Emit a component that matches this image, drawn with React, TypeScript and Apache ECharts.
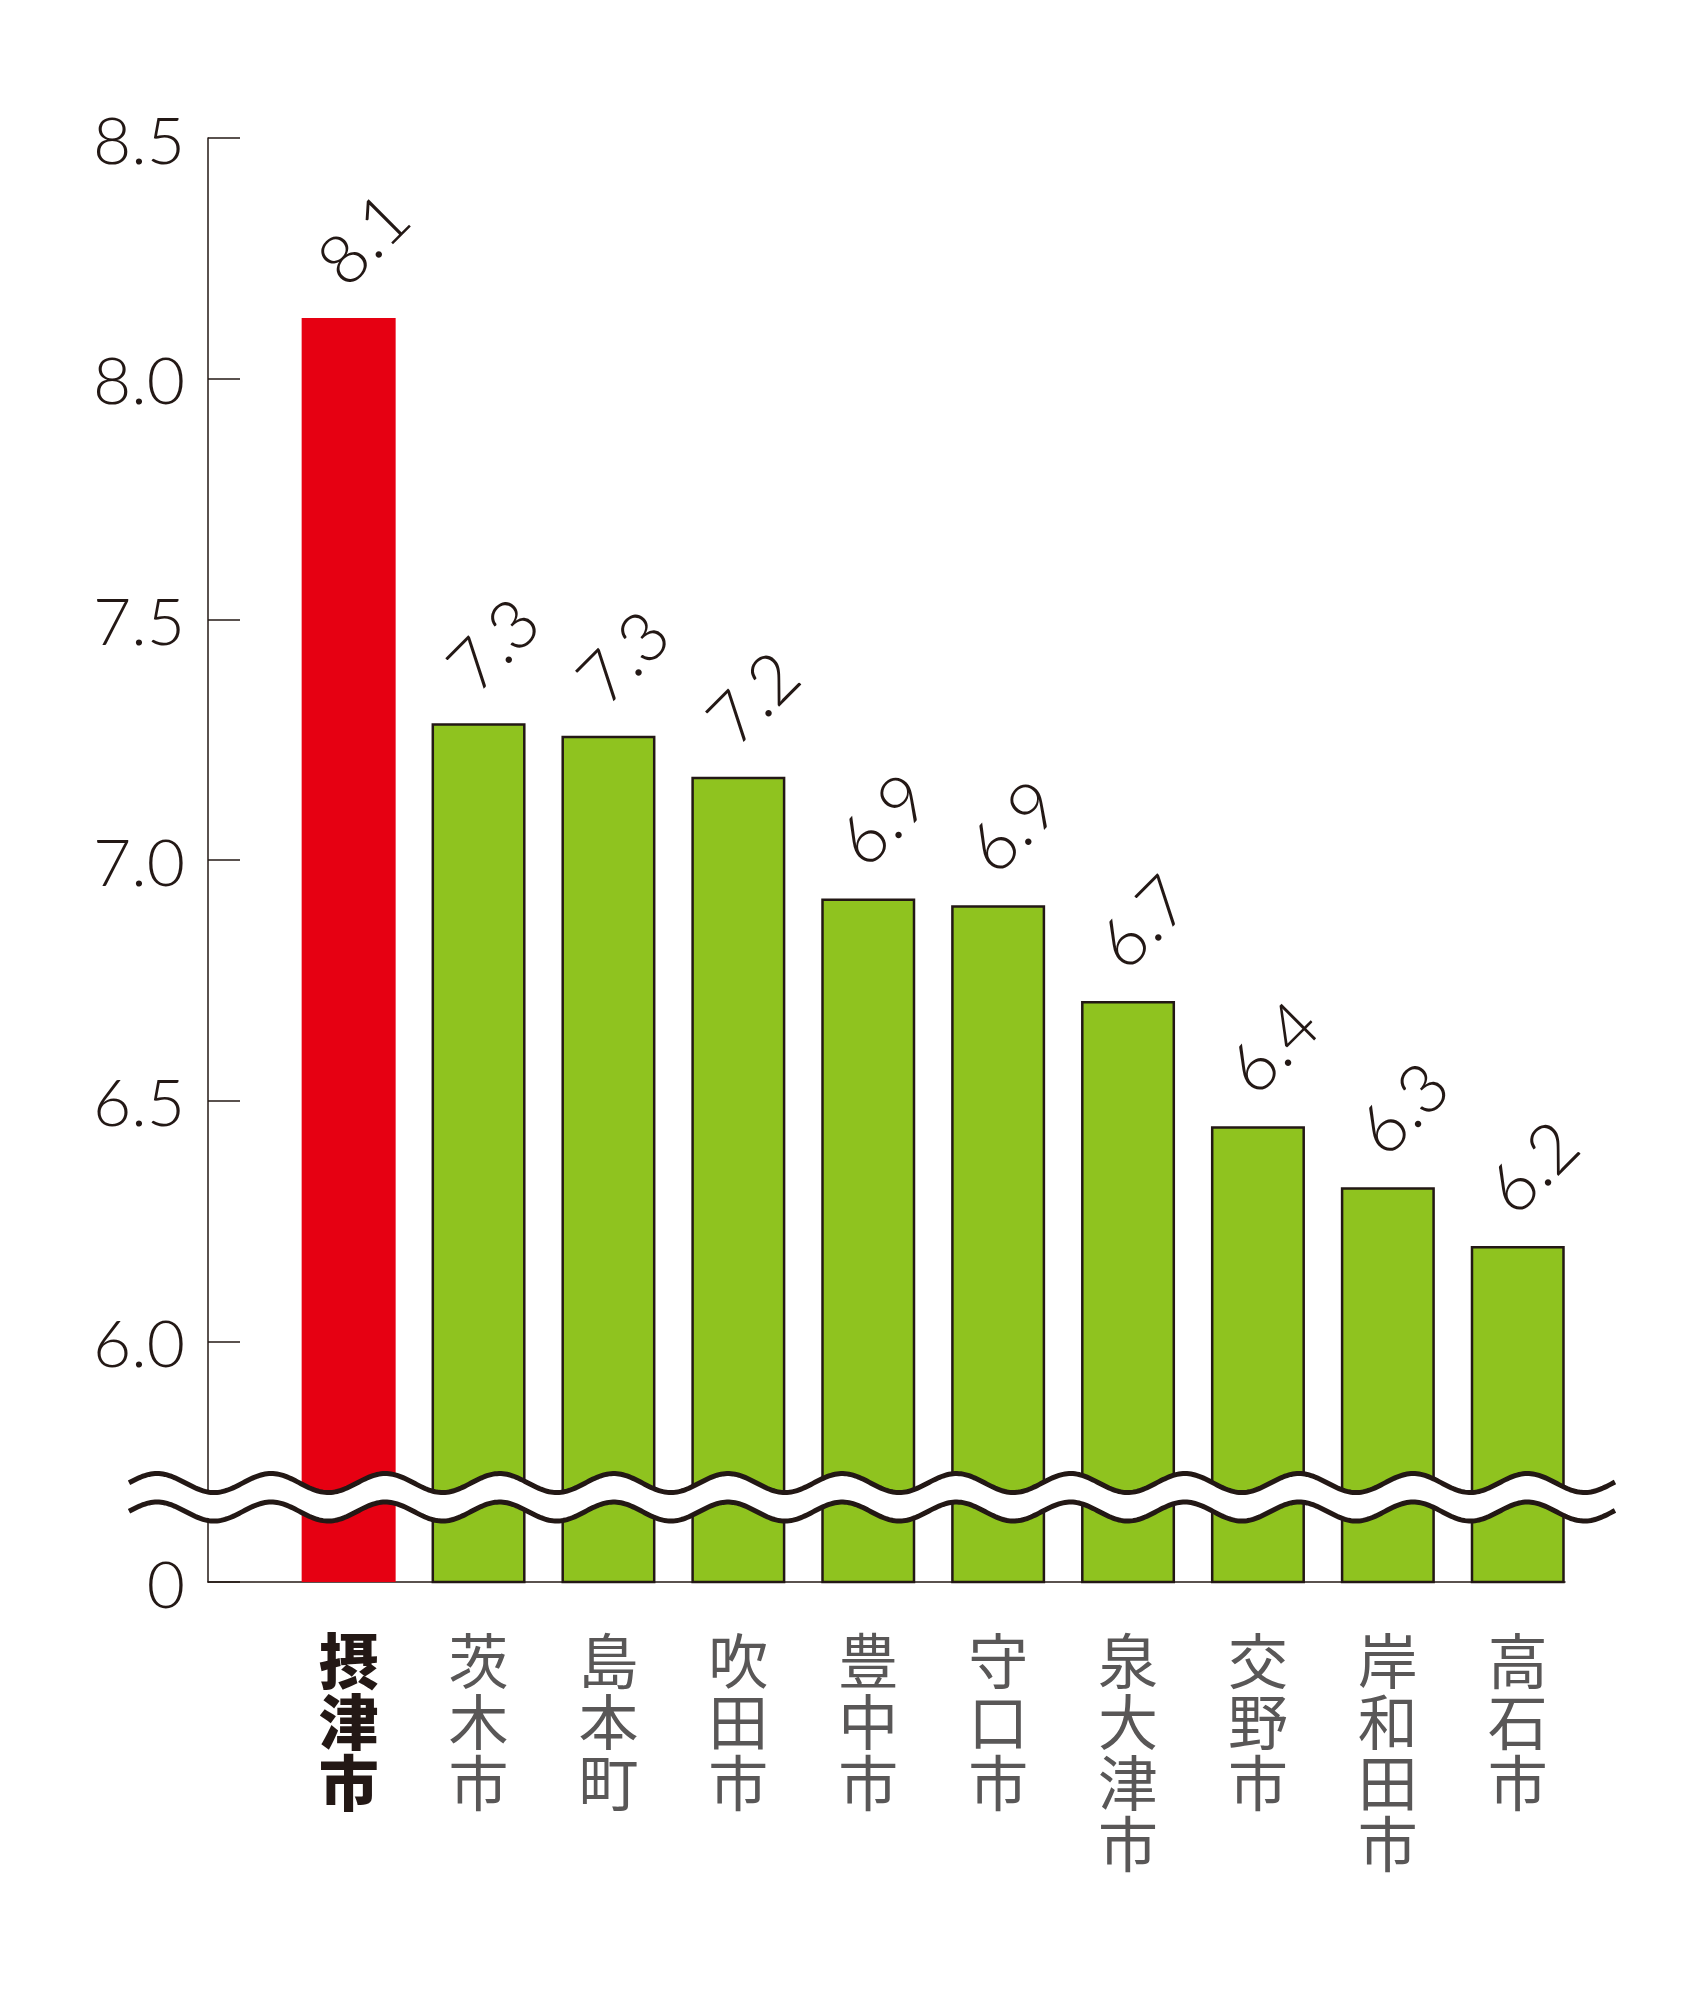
import React, { useEffect, useRef } from "react";
import * as echarts from "echarts";

const categories = ["摂津市", "茨木市", "島本町", "吹田市", "豊中市", "守口市", "泉大津市", "交野市", "岸和田市", "高石市"];
const values = [8.126, 7.284, 7.258, 7.173, 6.92, 6.906, 6.707, 6.447, 6.32, 6.198];
const valueLabels = ["8.1", "7.3", "7.3", "7.2", "6.9", "6.9", "6.7", "6.4", "6.3", "6.2"];
const yTickValues = [5.5, 6.0, 6.5, 7.0, 7.5, 8.0, 8.5];
const yTickLabels = ["0", "6.0", "6.5", "7.0", "7.5", "8.0", "8.5"];
const highlightIndex = 0;
const breakValue = 5.676;

const INK = "#231815";
const GRAY = "#595757";
const RED = "#e60012";
const GREEN = "#8fc31f";
const NUM_FONT = "Lato, 'Open Sans', sans-serif";
const CJK_FONT = "'Noto Sans CJK JP', 'Noto Sans', sans-serif";

export default function App() {
  const ref = useRef<HTMLDivElement>(null);

  useEffect(() => {
    if (!ref.current) return;
    const chart = echarts.init(ref.current, null, { renderer: "svg" });

    const option: any = {
      animation: false,
      backgroundColor: "#ffffff",
      grid: [
        { left: 208, top: 138, width: 1357, height: 1444 },
        { left: 283.7, top: 138, width: 1299, height: 1444 },
      ],
      xAxis: [
        {
          type: "value",
          gridIndex: 0,
          min: 0,
          max: 1,
          axisLine: { show: true, lineStyle: { color: INK, width: 1.5 } },
          axisTick: { show: false },
          axisLabel: { show: false },
          splitLine: { show: false },
        },
        {
          type: "category",
          gridIndex: 1,
          data: categories.map((c, i) => ({
            value: c,
            textStyle:
              i === highlightIndex
                ? { color: INK, fontWeight: 900 }
                : { color: GRAY, fontWeight: 400 },
          })),
          axisLine: { show: false },
          axisTick: { show: false },
          splitLine: { show: false },
          axisLabel: {
            interval: 0,
            margin: 45,
            fontSize: 60,
            lineHeight: 61,
            fontFamily: CJK_FONT,
            verticalAlign: "top",
            formatter: (v: string) => v.split("").join("\n"),
          },
        },
      ],
      yAxis: [
        {
          type: "value",
          gridIndex: 0,
          min: 5.5,
          max: 8.5,
          interval: 0.5,
          axisLine: { show: true, lineStyle: { color: INK, width: 1.5 } },
          axisTick: { show: true, inside: true, length: 32, lineStyle: { color: INK, width: 1.5 } },
          splitLine: { show: false },
          axisLabel: {
            margin: 23,
            fontSize: 66,
            fontFamily: NUM_FONT,
            fontWeight: 300,
            color: INK,
            formatter: (v: number) => {
              const idx = yTickValues.findIndex((t) => Math.abs(t - v) < 1e-6);
              return idx >= 0 ? yTickLabels[idx] : "";
            },
          },
        },
        {
          type: "value",
          gridIndex: 1,
          min: 5.5,
          max: 8.5,
          interval: 0.5,
          show: false,
        },
      ],
      series: [
        {
          type: "bar",
          xAxisIndex: 1,
          yAxisIndex: 1,
          barWidth: 94,
          data: values.map((v, i) => ({
            value: v,
            itemStyle:
              i === highlightIndex
                ? { color: RED, borderWidth: 0 }
                : { color: GREEN, borderColor: INK, borderWidth: 2.5 },
          })),
          label: {
            show: true,
            position: ["54%", -22],
            rotate: 45,
            align: "left",
            verticalAlign: "bottom",
            fontSize: 69,
            fontFamily: NUM_FONT,
            fontWeight: 300,
            color: INK,
            formatter: (p: any) => valueLabels[p.dataIndex],
          },
        },
      ],
    };

    chart.setOption(option);

    // axis-break wave symbol, positioned from the y axis scale
    const yc = chart.convertToPixel({ yAxisIndex: 0 }, breakValue) as number;
    const axisX = chart.convertToPixel({ xAxisIndex: 0 }, 0) as number;
    const startX = axisX - 79;
    const endX = axisX + 1407;
    const crestX = axisX - 51;
    const period = 114.2;
    const amp = 9.5;
    const gap = 28.5;
    const wave = (offset: number) => {
      const pts: number[][] = [];
      for (let x = startX; x <= endX + 0.01; x += 2) {
        pts.push([x, yc + offset - amp * Math.cos((2 * Math.PI * (x - crestX)) / period)]);
      }
      return pts;
    };
    const upper = wave(-gap / 2);
    const lower = wave(gap / 2);
    chart.setOption({
      graphic: [
        {
          type: "polygon",
          z: 100,
          silent: true,
          shape: { points: upper.concat(lower.slice().reverse()) },
          style: { fill: "#ffffff", stroke: "none" },
        },
        {
          type: "polyline",
          z: 101,
          silent: true,
          shape: { points: upper },
          style: { stroke: INK, lineWidth: 5, fill: "none" },
        },
        {
          type: "polyline",
          z: 101,
          silent: true,
          shape: { points: lower },
          style: { stroke: INK, lineWidth: 5, fill: "none" },
        },
      ],
    });

    return () => chart.dispose();
  }, []);

  return (
    <div
      ref={ref}
      style={{ position: "absolute", left: 0, top: 0, width: 1700, height: 2000, background: "#fff" }}
    />
  );
}
